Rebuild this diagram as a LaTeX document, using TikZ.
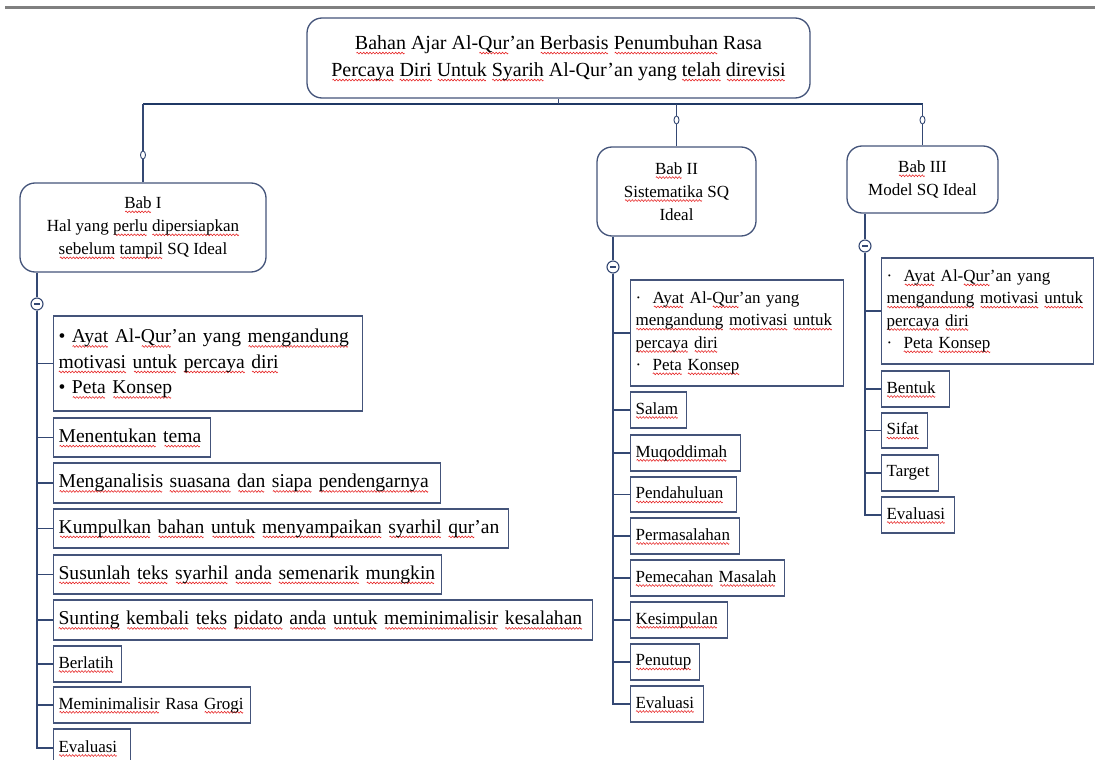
\documentclass[tikz,border=0pt]{standalone}
\usepackage{fontspec}
\setmainfont{Liberation Serif}
\usetikzlibrary{shapes.geometric}
\definecolor{boxc}{RGB}{68,84,122}
\definecolor{linec}{RGB}{52,72,115}
\definecolor{barc}{RGB}{31,56,100}
\definecolor{rulec}{RGB}{128,128,128}
\definecolor{wavec}{RGB}{230,30,30}
\newsavebox\wavebx
\newcommand\wv[1]{\leavevmode\setbox0=\hbox{#1}\rlap{\lower0.19em\hbox to \wd0{\cleaders\copy\wavebx\hfil}}\box0\relax}
\begin{document}
\begin{tikzpicture}[x=1pt,y=-1pt,
  hdr/.style={draw=boxc, line width=1.3pt, rounded corners=15pt, fill=white, align=center, inner sep=0pt},
  lbox/.style={draw=boxc, line width=1.2pt, fill=white, align=left, inner xsep=5pt, inner ysep=0pt, anchor=west},
  ftbig/.style={font=\fontsize{19.6}{25.5}\selectfont},
  ftsmall/.style={font=\fontsize{17}{22.3}\selectfont},
  conn/.style={draw=linec, line width=1.4pt},
  barline/.style={draw=barc, line width=2.6pt},
  knob/.style={ellipse, draw=linec, fill=white, line width=0.9pt, minimum width=5pt, minimum height=8pt, inner sep=0pt},
  minus/.style={circle, draw=linec, fill=white, line width=1.1pt, minimum size=12pt, inner sep=0pt,
    path picture={\draw[linec, line width=1.3pt] ([xshift=-3pt]path picture bounding box.center) -- ([xshift=3pt]path picture bounding box.center);}}
]
\global\setbox\wavebx=\hbox{\tikz[baseline=0pt]{\draw[wavec,line width=0.55pt] (0pt,0pt) sin (0.8pt,0.9pt) cos (1.6pt,0pt) sin (2.4pt,-0.9pt) cos (3.2pt,0pt); \pgfresetboundingbox\useasboundingbox (0pt,0pt) rectangle (3.2pt,0pt);}}
\useasboundingbox (0,0) rectangle (1095,760);
\draw[rulec, line width=3pt] (5,8) -- (1095,8);

% headers
\node[hdr, font=\fontsize{20}{27}\selectfont, minimum width=503pt, minimum height=80pt] (root) at (558.5,58)
 {\wv{Bahan} Ajar Al-\wv{Qur}’an \wv{Berbasis} \wv{Penumbuhan} Rasa\\\wv{Percaya} \wv{Diri} \wv{Untuk} \wv{Syarih} Al-Qur’an yang \wv{telah} \wv{direvisi}};
\node[hdr, font=\fontsize{17}{23}\selectfont, minimum width=246pt, minimum height=89pt] (bab1) at (143,227.5)
 {\wv{Bab} I\\Hal yang \wv{perlu} \wv{dipersiapkan}\\\wv{sebelum} \wv{tampil} SQ Ideal};
\node[hdr, font=\fontsize{17}{23}\selectfont, minimum width=159pt, minimum height=89pt] (bab2) at (676.5,191.5)
 {\wv{Bab} II\\\wv{Sistematika} SQ\\Ideal};
\node[hdr, font=\fontsize{17}{23}\selectfont, minimum width=151pt, minimum height=67pt] (bab3) at (922.5,179.5)
 {\wv{Bab} III\\Model SQ Ideal};

% bar and stems
\coordinate (jl) at (143,104);
\coordinate (jm) at (676.5,104);
\coordinate (jr) at (922.5,104);
\draw[barline] (jl) -- (jr);
\draw[conn] (root.south) -- (root.south |- jl);
\node[knob] (k1) at (143,155) {};
\node[knob] (k2) at (676.5,120) {};
\node[knob] (k3) at (922.5,120) {};
\draw[conn] (jl) -- (k1); \draw[conn] (k1) -- (bab1.north);
\draw[conn] (jm) -- (k2); \draw[conn] (k2) -- (bab2.north);
\draw[conn] (jr) -- (k3); \draw[conn] (k3) -- (bab3.north);

% collapse knobs
\node[minus] (m1) at (37,304) {};
\node[minus] (m2) at (613,267) {};
\node[minus] (m3) at (865,246) {};
\draw[conn] (bab1.south -| m1) -- (m1);
\draw[conn] (bab2.south -| m2) -- (m2);
\draw[conn] (bab3.south -| m3) -- (m3);

% Bab I list
\node[lbox, ftbig, text width=299pt, minimum height=95pt] (l0) at (53,363.5)
 {\mbox{•\ \wv{Ayat} Al-\wv{Qur}’an yang \wv{mengandung}}\\\mbox{\wv{motivasi} \wv{untuk} \wv{percaya} \wv{diri}}\\\mbox{•\ \wv{Peta} \wv{Konsep}}};
\node[lbox, ftbig, text width=147pt, minimum height=39pt] (l1) at (53,437.5) {\mbox{\wv{Menentukan} \wv{tema}}};
\node[lbox, ftbig, text width=377pt, minimum height=40pt] (l2) at (53,483) {\mbox{\wv{Menganalisis} \wv{suasana} \wv{dan} \wv{siapa} \wv{pendengarnya}}};
\node[lbox, ftbig, text width=445pt, minimum height=39pt] (l3) at (53,528.5) {\mbox{\wv{Kumpulkan} \wv{bahan} \wv{untuk} \wv{menyampaikan} \wv{syarhil} \wv{qur}’an}};
\node[lbox, ftbig, text width=378pt, minimum height=39pt] (l4) at (53,574.5) {\mbox{\wv{Susunlah} \wv{teks} \wv{syarhil} \wv{anda} \wv{semenarik} \wv{mungkin}}};
\node[lbox, ftbig, text width=529pt, minimum height=40pt] (l5) at (53,620) {\mbox{\wv{Sunting} \wv{kembali} \wv{teks} \wv{pidato} \wv{anda} \wv{untuk} \wv{meminimalisir} \wv{kesalahan}}};
\node[lbox, ftsmall, text width=58pt, minimum height=36pt] (l6) at (53,664) {\mbox{\wv{Berlatih}}};
\node[lbox, ftsmall, text width=187pt, minimum height=36pt] (l7) at (53,705) {\mbox{\wv{Meminimalisir} Rasa \wv{Grogi}}};
\node[lbox, ftsmall, text width=67pt, minimum height=38pt] (l8) at (53,748) {\mbox{\wv{Evaluasi}}};
\foreach \n in {l0,l1,l2,l3,l4,l5,l6,l7,l8} \draw[conn] (m1) |- (\n.west);

% Bab II list
\node[lbox, ftsmall, text width=203pt, minimum height=106pt] (n0) at (630,333)
 {\mbox{·\ \ \wv{Ayat} Al-\wv{Qur}’an yang}\\\mbox{\wv{mengandung} \wv{motivasi} \wv{untuk}}\\\mbox{\wv{percaya} \wv{diri}}\\\mbox{·\ \ \wv{Peta} \wv{Konsep}}};
\node[lbox, ftsmall, text width=46pt, minimum height=36pt] (n1) at (630,410) {\mbox{\wv{Salam}}};
\node[lbox, ftsmall, text width=100pt, minimum height=36pt] (n2) at (630,453) {\mbox{\wv{Muqoddimah}}};
\node[lbox, ftsmall, text width=96pt, minimum height=35pt] (n3) at (630,494.5) {\mbox{\wv{Pendahuluan}}};
\node[lbox, ftsmall, text width=99pt, minimum height=36pt] (n4) at (630,536) {\mbox{\wv{Permasalahan}}};
\node[lbox, ftsmall, text width=144pt, minimum height=36pt] (n5) at (630,578) {\mbox{\wv{Pemecahan} \wv{Masalah}}};
\node[lbox, ftsmall, text width=87pt, minimum height=36pt] (n6) at (630,620) {\mbox{\wv{Kesimpulan}}};
\node[lbox, ftsmall, text width=59pt, minimum height=36pt] (n7) at (630,662) {\mbox{\wv{Penutup}}};
\node[lbox, ftsmall, text width=63pt, minimum height=36pt] (n8) at (630,704) {\mbox{\wv{Evaluasi}}};
\foreach \n in {n0,n1,n2,n3,n4,n5,n6,n7,n8} \draw[conn] (m2) |- (\n.west);

% Bab III list
\node[lbox, ftsmall, text width=202pt, minimum height=106pt] (r0) at (881,311)
 {\mbox{·\ \ \wv{Ayat} Al-\wv{Qur}’an yang}\\\mbox{\wv{mengandung} \wv{motivasi} \wv{untuk}}\\\mbox{\wv{percaya} \wv{diri}}\\\mbox{·\ \ \wv{Peta} \wv{Konsep}}};
\node[lbox, ftsmall, text width=58pt, minimum height=36pt] (r1) at (881,389) {\mbox{\wv{Bentuk}}};
\node[lbox, ftsmall, text width=36pt, minimum height=35pt] (r2) at (881,430.5) {\mbox{\wv{Sifat}}};
\node[lbox, ftsmall, text width=47pt, minimum height=36pt] (r3) at (881,473) {\mbox{Target}};
\node[lbox, ftsmall, text width=63pt, minimum height=36pt] (r4) at (881,515) {\mbox{\wv{Evaluasi}}};
\foreach \n in {r0,r1,r2,r3,r4} \draw[conn] (m3) |- (\n.west);
\end{tikzpicture}
\end{document}
